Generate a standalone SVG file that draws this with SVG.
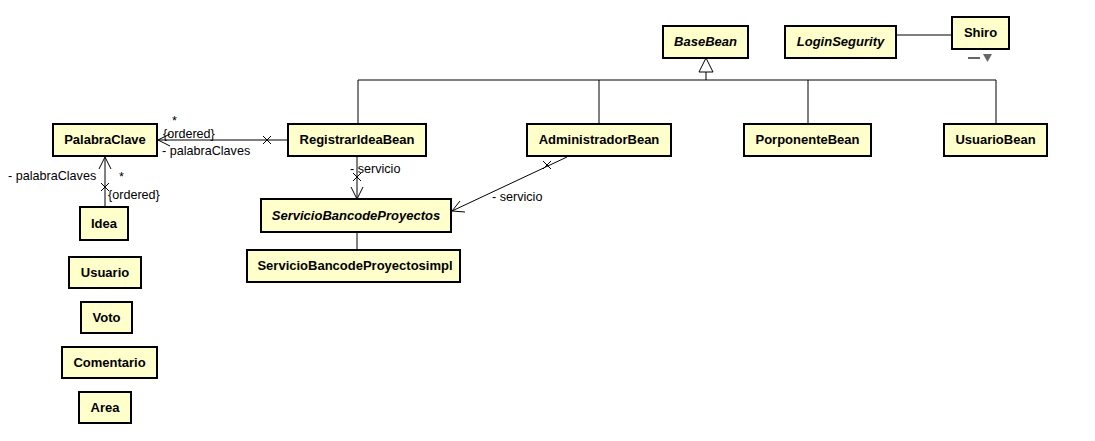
<svg xmlns="http://www.w3.org/2000/svg" width="1095" height="441" viewBox="0 0 1095 441">
<style>
.box{fill:#ffffcc;stroke:#000;stroke-width:2}
.nt{font-family:"Liberation Sans",Arial,sans-serif;font-size:13px;font-weight:bold;text-anchor:middle;fill:#000}
.it{font-style:italic}
.ln{stroke:#000;stroke-width:1;fill:none}
.lb{font-family:"Liberation Sans",Arial,sans-serif;font-size:12.6px;fill:#000}
</style>
<rect width="1095" height="441" fill="#fff"/>
<g id="connectors">
  <polyline class="ln" points="358,124 358,80 996,80 996,124"/>
  <line class="ln" x1="599" y1="80" x2="599" y2="124"/>
  <line class="ln" x1="808" y1="80" x2="808" y2="124"/>
  <line class="ln" x1="706" y1="80" x2="706" y2="72"/>
  <polygon points="706,58 699,72 713,72" fill="#fff" stroke="#000" stroke-width="1"/>
  <line class="ln" x1="896" y1="35" x2="952" y2="35"/>
  <line x1="968" y1="58" x2="980" y2="58" stroke="#666" stroke-width="2"/>
  <polygon points="983,54 992,54 987.5,62" fill="#666"/>
  <line class="ln" x1="288" y1="140" x2="158" y2="140"/>
  <polyline class="ln" points="170,134 158,140 170,146"/>
  <path class="ln" d="M263,136 L271,144 M263,144 L271,136"/>
  <text class="lb" x="172" y="125">*</text>
  <text class="lb" x="163" y="138">{ordered}</text>
  <text class="lb" x="162" y="155">- palabraClaves</text>
  <line class="ln" x1="105" y1="207" x2="105" y2="157"/>
  <polyline class="ln" points="99,169 105,157 111,169"/>
  <path class="ln" d="M101,183 L109,191 M101,191 L109,183"/>
  <text class="lb" x="8" y="180">- palabraClaves</text>
  <text class="lb" x="119" y="181">*</text>
  <text class="lb" x="108" y="199">{ordered}</text>
  <line class="ln" x1="357" y1="156" x2="357" y2="199"/>
  <polyline class="ln" points="351,187 357,199 363,187"/>
  <path class="ln" d="M353,173 L361,181 M353,181 L361,173"/>
  <text class="lb" x="350" y="173">- servicio</text>
  <line class="ln" x1="567" y1="157" x2="452" y2="211"/>
  <polyline class="ln" points="460,201 452,211 465,212"/>
  <path class="ln" d="M543,161 L551,169 M543,169 L551,161"/>
  <text class="lb" x="492" y="201">- servicio</text>
  <line class="ln" x1="357" y1="232" x2="357" y2="250"/>
</g>
<g id="BaseBean"><rect class="box" x="663" y="26" width="85" height="32"/><text class="nt it" x="705.5" y="46">BaseBean</text></g>
<g id="LoginSegurity"><rect class="box" x="785" y="26" width="111" height="32"/><text class="nt it" x="840.5" y="46">LoginSegurity</text></g>
<g id="Shiro"><rect class="box" x="952" y="17" width="57" height="32"/><text class="nt" x="980.5" y="37">Shiro</text></g>
<g id="PalabraClave"><rect class="box" x="53" y="124" width="104" height="32"/><text class="nt" x="105" y="144">PalabraClave</text></g>
<g id="RegistrarIdeaBean"><rect class="box" x="288" y="124" width="138" height="32"/><text class="nt" x="357" y="144">RegistrarIdeaBean</text></g>
<g id="AdministradorBean"><rect class="box" x="527" y="124" width="144" height="32"/><text class="nt" x="599" y="144">AdministradorBean</text></g>
<g id="PorponenteBean"><rect class="box" x="744" y="124" width="127" height="32"/><text class="nt" x="807.5" y="144">PorponenteBean</text></g>
<g id="UsuarioBean"><rect class="box" x="944" y="124" width="103" height="32"/><text class="nt" x="995.5" y="144">UsuarioBean</text></g>
<g id="ServicioBancodeProyectos"><rect class="box" x="261" y="199" width="190" height="33"/><text class="nt it" x="356" y="220">ServicioBancodeProyectos</text></g>
<g id="ServicioBancodeProyectosimpl"><rect class="box" x="247" y="250" width="213" height="32"/><text class="nt" x="355" y="270">ServicioBancodeProyectosimpl</text></g>
<g id="Idea"><rect class="box" x="80" y="207" width="48" height="33"/><text class="nt" x="104" y="228">Idea</text></g>
<g id="Usuario"><rect class="box" x="69" y="257" width="72" height="31"/><text class="nt" x="105" y="277">Usuario</text></g>
<g id="Voto"><rect class="box" x="81" y="302" width="51" height="31"/><text class="nt" x="106.5" y="322">Voto</text></g>
<g id="Comentario"><rect class="box" x="62" y="347" width="95" height="31"/><text class="nt" x="109.5" y="367">Comentario</text></g>
<g id="Area"><rect class="box" x="79" y="392" width="52" height="31"/><text class="nt" x="105" y="412">Area</text></g>
</svg>
